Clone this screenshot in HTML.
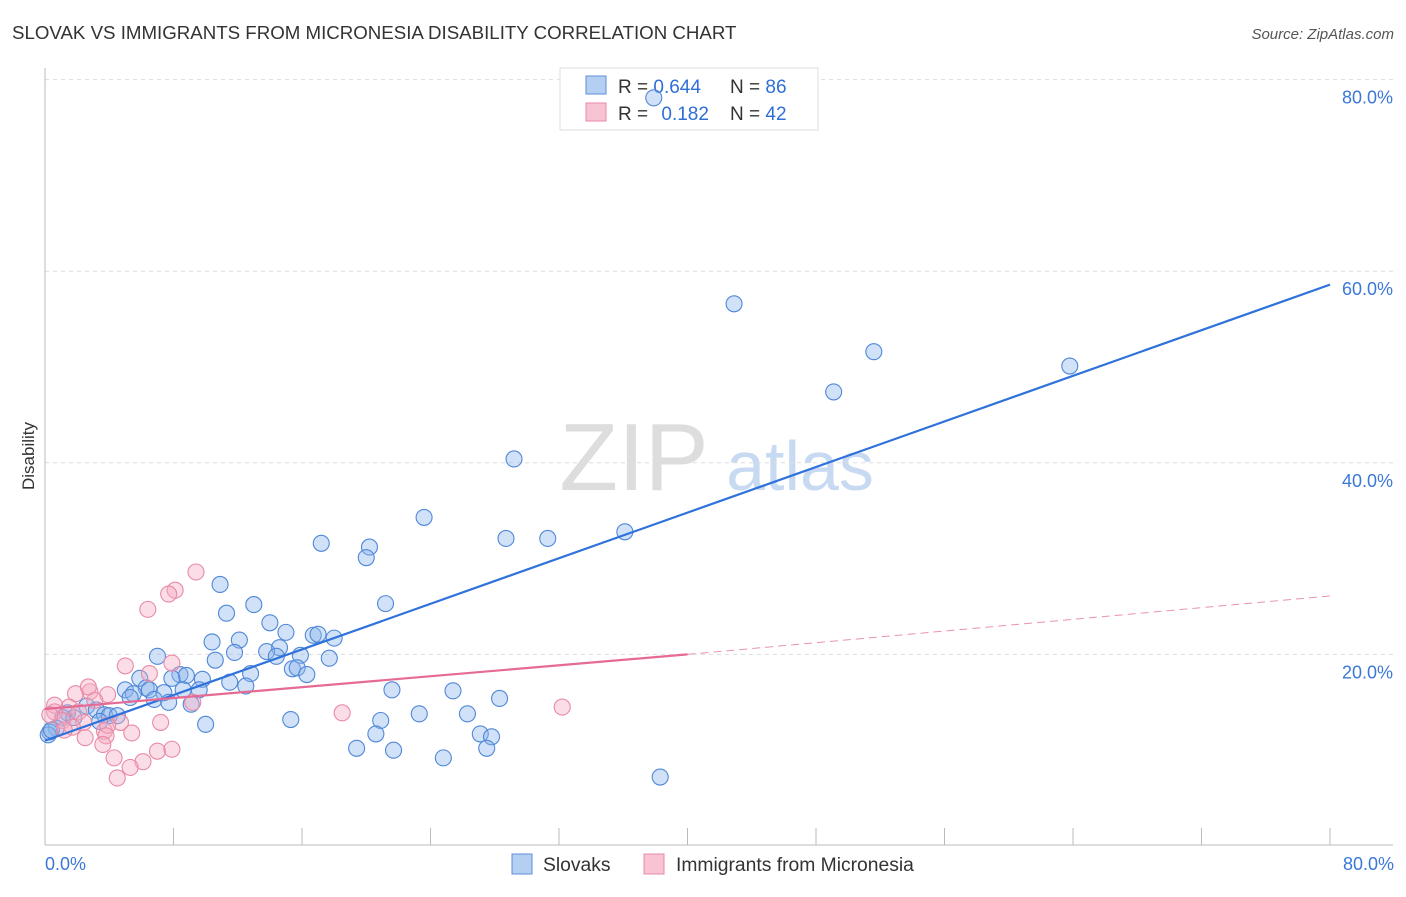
<!DOCTYPE html>
<html><head><meta charset="utf-8"><style>
body{margin:0;background:#fff;font-family:"Liberation Sans",sans-serif}
svg text{font-family:"Liberation Sans",sans-serif}
</style></head><body>
<svg width="1406" height="892">
<text x="12" y="39" font-size="18.7" fill="#333">SLOVAK VS IMMIGRANTS FROM MICRONESIA DISABILITY CORRELATION CHART</text>
<text x="1394" y="39" font-size="15" fill="#555" font-style="italic" text-anchor="end">Source: ZipAtlas.com</text>
<text x="634" y="490" font-size="96" fill="#ddd" font-family="Liberation Serif" text-anchor="middle">ZIP</text>
<text x="800" y="490" font-size="70" fill="#c8daf2" text-anchor="middle">atlas</text>
<g id="grid"></g><g id="axes"></g>
<g>
<rect x="560" y="68" width="258" height="62" fill="#fff" stroke="#ddd"/>
<rect x="586" y="76" width="20" height="18" fill="#b5cff3" stroke="#5b8fd8"/>
<rect x="586" y="103" width="20" height="18" fill="#f8c4d3" stroke="#e98aa5"/>
<text x="618" y="93" font-size="19" fill="#333">R = <tspan fill="#2f6fd6">0.644</tspan></text>
<text x="730" y="93" font-size="19" fill="#333">N = <tspan fill="#2f6fd6">86</tspan></text>
<text x="618" y="120" font-size="19" fill="#333">R = <tspan fill="#2f6fd6" dx="8">0.182</tspan></text>
<text x="730" y="120" font-size="19" fill="#333">N = <tspan fill="#2f6fd6">42</tspan></text>
</g>
<g id="pts"></g><g id="lines"></g>
<text transform="translate(34,456) rotate(-90)" font-size="17" fill="#333" text-anchor="middle">Disability</text>
<g>
<rect x="512" y="854" width="20" height="20" fill="#b5cff3" stroke="#5b8fd8"/>
<text x="543" y="871" font-size="19.3" fill="#333">Slovaks</text>
<rect x="644" y="854" width="20" height="20" fill="#f8c4d3" stroke="#e98aa5"/>
<text x="676" y="871" font-size="19.3" fill="#333">Immigrants from Micronesia</text>
</g>
<text x="45" y="870" font-size="18" fill="#3b78d8">0.0%</text>
<text x="1394" y="870" font-size="18" fill="#3b78d8" text-anchor="end">80.0%</text>
</svg>
<script>
const blueX=[37.9,42.9,51.6,63.8,49.1,29.2,23.6,28.7,31.3,36.1,17.2,20.2,20.0,10.9,21.2,13.0,11.3,14.0,15.0,16.7,17.0,18.0,10.4,12.1,14.6,13.8,11.8,14.4,15.9,7.0,10.6,17.7,15.4,15.7,16.3,12.8,8.4,8.8,5.9,7.9,9.8,11.5,12.5,5.0,6.3,6.5,8.6,9.6,7.4,5.5,5.3,21.6,25.4,28.3,6.8,7.7,9.1,2.6,3.2,3.7,4.0,4.5,1.4,1.1,1.8,3.4,23.3,26.3,15.3,20.9,10.0,27.1,20.6,27.8,0.7,0.3,0.2,0.4,19.4,21.7,27.5,24.8,38.3];
const blueY=[78.1,56.6,51.6,50.1,47.4,40.4,34.3,32.1,32.1,32.8,31.6,31.2,30.1,27.3,25.3,25.2,24.3,23.3,22.3,22.0,22.1,21.7,21.3,21.5,20.7,20.3,20.2,19.8,19.9,19.8,19.4,19.6,18.5,18.6,17.9,18.0,17.9,17.8,17.5,17.5,17.4,17.1,16.7,16.3,16.5,16.3,16.3,16.3,16.0,15.9,15.5,16.3,16.2,15.4,15.3,15.0,14.8,14.6,14.2,13.7,13.6,13.6,13.9,13.4,13.4,13.0,13.8,13.8,13.2,13.1,12.7,11.7,11.7,11.4,12.3,11.9,11.6,12.1,10.2,10.0,10.2,9.2,7.2];
const pinkX=[9.4,8.1,7.7,6.4,5.0,6.5,7.9,32.2,18.5,3.9,2.8,1.9,2.7,0.6,0.6,1.5,2.1,3.1,1.1,2.4,4.7,7.2,9.2,1.7,3.7,3.9,2.5,3.8,5.4,3.6,4.3,6.1,7.0,7.9,5.3,4.5,0.3,1.2];
const pinkY=[28.6,26.7,26.3,24.7,18.8,18.0,19.1,14.5,13.9,15.8,16.1,15.9,16.6,14.7,14.0,14.5,14.0,15.2,13.1,12.9,12.9,12.9,15.0,12.4,12.0,12.6,11.3,11.5,11.8,10.6,9.2,8.8,9.9,10.1,8.2,7.1,13.7,12.1];
const yTicks=[20,40,60,80];
const xTicks=[0,8,16,24,32,40,48,56,64,72,80];
const blueLine=[[0,11.0],[80,58.6]];
const pinkLine=[[0,14.3],[40,20.0]];
const pinkDash=[[40,20.0],[80,26.1]];
const NS="http://www.w3.org/2000/svg";
const sx=v=>45+v*1285/80, sy=v=>846-v*191.6/20;
function mk(tag,attrs,parent){const e=document.createElementNS(NS,tag);for(const k in attrs)e.setAttribute(k,attrs[k]);document.getElementById(parent).appendChild(e);return e;}
yTicks.forEach(t=>{
 const l=mk('line',{x1:45,x2:1393,y1:sy(t),y2:sy(t),stroke:'#ddd','stroke-dasharray':'4,4'},'grid');
 
 
 const tx=mk('text',{x:1393,y:sy(t)+24,'font-size':18,fill:'#3b78d8','text-anchor':'end'},'grid');
 tx.textContent=t.toFixed(1)+'%';
 
 
});
const ax=mk('line',{x1:45,x2:1393,y1:845,y2:845,stroke:'#bbb'},'axes');


const ay=mk('line',{x1:45,x2:45,y1:68,y2:845,stroke:'#bbb'},'axes');


xTicks.forEach(t=>{
 const l=mk('line',{x1:sx(t),x2:sx(t),y1:828,y2:845,stroke:'#bbb'},'axes');
 
 
});
blueX.forEach((x,i)=>{
 const c=mk('circle',{cx:sx(x),cy:sy(blueY[i]),r:8,fill:'rgba(140,180,235,0.4)',stroke:'#4f88d8','stroke-width':1.1},'pts');
 
 
});
pinkX.forEach((x,i)=>{
 const c=mk('circle',{cx:sx(x),cy:sy(pinkY[i]),r:8,fill:'rgba(245,170,195,0.4)',stroke:'#e98aa5','stroke-width':1.1},'pts');
 
 
});
const bl=mk('line',{x1:sx(blueLine[0][0]),y1:sy(blueLine[0][1]),x2:sx(blueLine[1][0]),y2:sy(blueLine[1][1]),stroke:'#2f72db','stroke-width':2.2},'lines');


const pl=mk('line',{x1:sx(pinkLine[0][0]),y1:sy(pinkLine[0][1]),x2:sx(pinkLine[1][0]),y2:sy(pinkLine[1][1]),stroke:'#e56a94','stroke-width':2.2},'lines');


const pd=mk('line',{x1:sx(pinkDash[0][0]),y1:sy(pinkDash[0][1]),x2:sx(pinkDash[1][0]),y2:sy(pinkDash[1][1]),stroke:'#e993b0','stroke-width':1,'stroke-dasharray':'8,5'},'lines');


</script>
</body></html>
